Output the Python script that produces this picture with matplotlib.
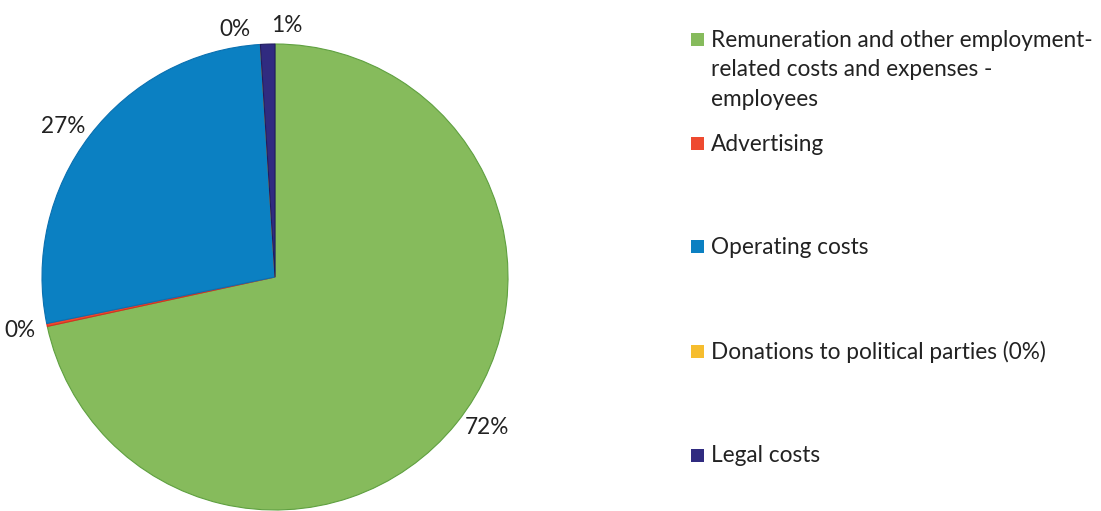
import matplotlib
matplotlib.use("Agg")
import matplotlib.pyplot as plt
from matplotlib.patches import Rectangle
import numpy as np

# ---------- Data ----------
categories = [
    "Remuneration and other employment-\nrelated costs and expenses -\nemployees",
    "Advertising",
    "Operating costs",
    "Donations to political parties (0%)",
    "Legal costs",
]
shares = [71.6, 0.2, 27.2, 0.0, 1.0]
colors = ["#86BB5C", "#EE4A30", "#0B80C2", "#F6BD2E", "#302B80"]
edges = ["#5FA040", "#D83020", "#0A70B0", "#E0A820", "#201C60"]

# nudges for the crowded labels at the top (degrees)
label_nudge = [3.5, 0, 2, 5.5, -4.5]
label_dist = [1.115, 1.12, 1.115, 1.075, 1.08]

W, H, DPI = 1101, 511, 100
cx, cy, R = 275, 234, 233  # pie centre/radius in pixels (y from bottom)

plt.rcParams["font.family"] = ["Lato", "DejaVu Sans"]

fig = plt.figure(figsize=(W / DPI, H / DPI), dpi=DPI)
ax = fig.add_axes([0, 0, 1, 1])

wedges, _ = ax.pie(
    shares,
    colors=colors,
    startangle=90,
    counterclock=False,
    radius=1,
    wedgeprops=dict(linewidth=0.8),
)
for w, ec in zip(wedges, edges):
    w.set_edgecolor(ec)

ax.set_aspect("auto")
ax.set_xlim(-cx / R, (W - cx) / R)
ax.set_ylim(-cy / R, (H - cy) / R)
ax.axis("off")

# ---------- Percent labels ----------
for w, v, nd, d in zip(wedges, shares, label_nudge, label_dist):
    ang = np.deg2rad((w.theta1 + w.theta2) / 2 + nd)
    ax.text(d * np.cos(ang), d * np.sin(ang), f"{v:.0f}%",
            ha="center", va="center", fontsize=16.3, color="#222222")

# ---------- Legend (drawn by hand, marker on first line) ----------
legend_y = [40, 144, 247, 351, 455]  # pixel rows from top
for lab, col, yy in zip(categories, colors, legend_y):
    fy = 1 - yy / H
    fig.patches.append(Rectangle((691 / W, fy - 6.5 / H), 13 / W, 13 / H,
                                 transform=fig.transFigure, facecolor=col,
                                 edgecolor="none"))
    fig.text(711 / W, fy + 10 / H, lab, ha="left", va="top",
             fontsize=16.3, color="#222222", linespacing=1.5)

fig.savefig("out.png", dpi=DPI)
